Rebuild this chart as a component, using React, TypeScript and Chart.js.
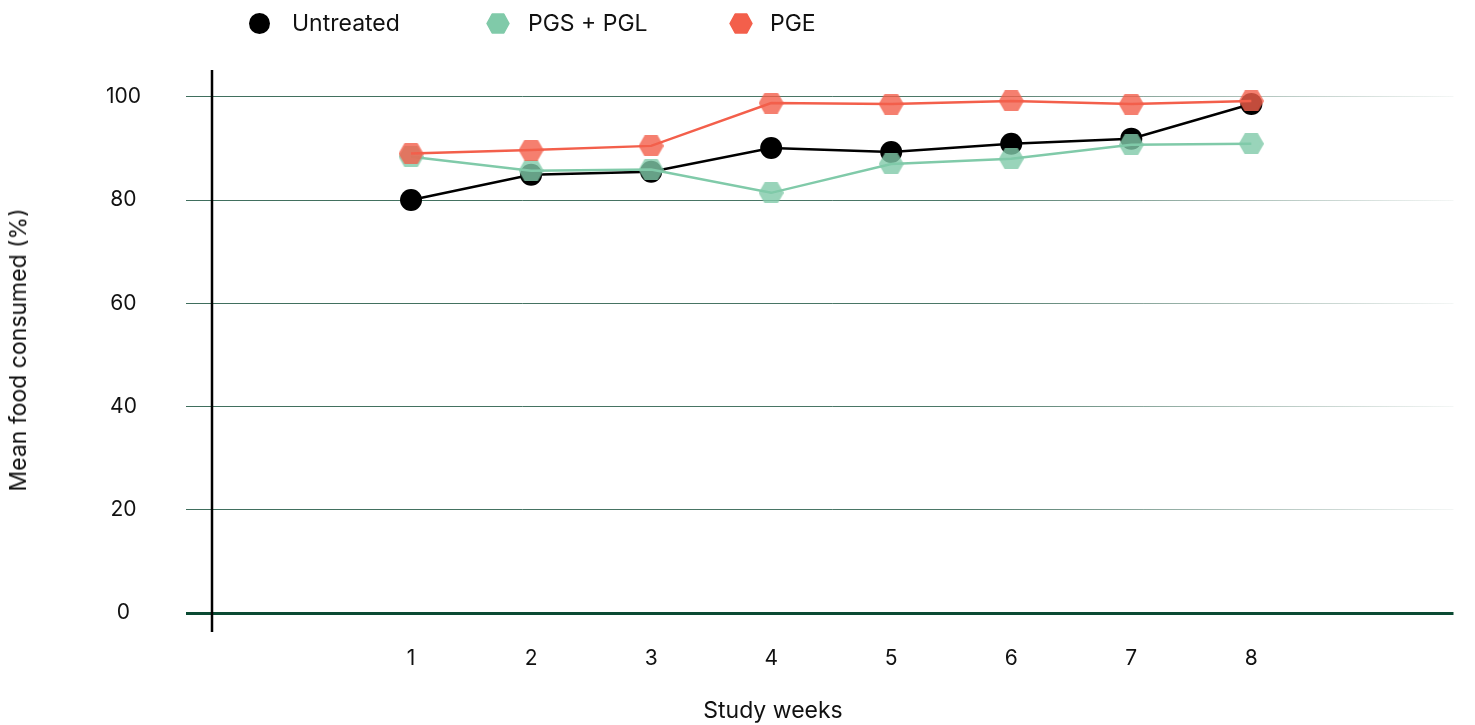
import React, { useEffect, useRef } from "react";
import { Chart, registerables } from "chart.js";

Chart.register(...registerables);

const weeks = [1, 2, 3, 4, 5, 6, 7, 8];
const untreated = [80.0, 84.9, 85.5, 90.1, 89.3, 90.9, 91.9, 98.6];
const pgsPgl = [88.4, 85.7, 85.9, 81.4, 87.0, 88.0, 90.7, 90.9];
const pge = [89.0, 89.7, 90.5, 98.8, 98.6, 99.2, 98.6, 99.2];
const yTicks = [0, 20, 40, 60, 80, 100];
const seriesNames = ["Untreated", "PGS + PGL", "PGE"];
const seriesColors = ["#000000", "#80caa9", "#f35f4b"];
const xTitle = "Study weeks";
const yTitle = "Mean food consumed (%)";

const FONT = "Inter, 'Noto Sans', sans-serif";

function makeHex(color: string, w: number, h: number, alpha: number): HTMLCanvasElement {
  const a = document.createElement("canvas");
  a.width = w;
  a.height = h;
  const g = a.getContext("2d")!;
  g.fillStyle = color;
  g.strokeStyle = color;
  g.lineJoin = "round";
  g.lineWidth = 2;
  g.beginPath();
  g.moveTo(1, h / 2);
  g.lineTo(w * 0.26, 1);
  g.lineTo(w * 0.74, 1);
  g.lineTo(w - 1, h / 2);
  g.lineTo(w * 0.74, h - 1);
  g.lineTo(w * 0.26, h - 1);
  g.closePath();
  g.fill();
  g.stroke();
  const b = document.createElement("canvas");
  b.width = w;
  b.height = h;
  const gb = b.getContext("2d")!;
  gb.globalAlpha = alpha;
  gb.drawImage(a, 0, 0);
  return b;
}

const axisLinePlugin = {
  id: "axisLine",
  afterDatasetsDraw(chart: any) {
    const { ctx, chartArea } = chart;
    ctx.save();
    ctx.strokeStyle = "#000";
    ctx.lineWidth = 2.5;
    ctx.beginPath();
    ctx.moveTo(chartArea.left, chartArea.top);
    ctx.lineTo(chartArea.left, chartArea.bottom + 19);
    ctx.stroke();
    ctx.restore();
  },
};

function HexIcon({ color }: { color: string }) {
  return (
    <svg width="24" height="21" viewBox="0 0 24 21" style={{ display: "block" }}>
      <polygon
        points="1,10.5 6.2,1 17.8,1 23,10.5 17.8,20 6.2,20"
        fill={color}
        stroke={color}
        strokeWidth="1.5"
        strokeLinejoin="round"
      />
    </svg>
  );
}

export default function App() {
  const ref = useRef<HTMLCanvasElement>(null);

  useEffect(() => {
    if (!ref.current) return;
    const hexGreen = makeHex(seriesColors[1], 25, 21, 0.8);
    const hexRed = makeHex(seriesColors[2], 25, 21, 0.8);
    let gradCache: any = null;
    const gridGradient = (chart: any) => {
      const area = chart.chartArea;
      if (!area) return "rgba(40,90,70,0.85)";
      if (gradCache) return gradCache;
      const g = chart.ctx.createLinearGradient(area.left - 26, 0, area.right + 20, 0);
      g.addColorStop(0, "rgba(30,85,65,0.85)");
      g.addColorStop(0.6, "rgba(30,85,65,0.8)");
      g.addColorStop(1, "rgba(30,85,65,0.02)");
      gradCache = g;
      return g;
    };

    const chart = new Chart(ref.current, {
      type: "line",
      data: {
        datasets: [
          {
            label: seriesNames[0],
            data: weeks.map((w, i) => ({ x: w, y: untreated[i] })),
            borderColor: seriesColors[0],
            backgroundColor: seriesColors[0],
            borderWidth: 2.5,
            pointStyle: "circle",
            pointRadius: 11,
            pointBorderWidth: 0,
            pointBackgroundColor: "#000",
            order: 2,
          },
          {
            label: seriesNames[1],
            data: weeks.map((w, i) => ({ x: w, y: pgsPgl[i] })),
            borderColor: seriesColors[1],
            backgroundColor: seriesColors[1],
            borderWidth: 2.5,
            pointStyle: hexGreen as any,
            pointRadius: 11,
            order: 1,
          },
          {
            label: seriesNames[2],
            data: weeks.map((w, i) => ({ x: w, y: pge[i] })),
            borderColor: seriesColors[2],
            backgroundColor: seriesColors[2],
            borderWidth: 2.5,
            pointStyle: hexRed as any,
            pointRadius: 11,
            order: 0,
          },
        ],
      },
      options: {
        animation: false,
        responsive: false,
        maintainAspectRatio: false,
        devicePixelRatio: 1,
        layout: { padding: { top: 62, right: 2, left: 0, bottom: 0 } },
        plugins: {
          legend: { display: false },
          tooltip: { enabled: false },
        },
        scales: {
          x: {
            type: "linear",
            min: -0.658,
            max: 9.684,
            afterBuildTicks: (scale: any) => {
              scale.ticks = weeks.map((v) => ({ value: v }));
            },
            afterFit: (scale: any) => {
              scale.height = 112;
            },
            grid: { display: false, drawTicks: false },
            border: { display: false },
            ticks: {
              padding: 33,
              color: "#111",
              font: { family: FONT, size: 21 },
              maxRotation: 0,
              autoSkip: false,
              callback: (v: any) => String(v),
            },
          },
          y: {
            type: "linear",
            min: 0,
            max: 105.2,
            afterBuildTicks: (scale: any) => {
              scale.ticks = yTicks.map((v) => ({ value: v }));
            },
            afterFit: (scale: any) => {
              scale.width = 204;
            },
            grid: {
              color: (c: any) =>
                c.tick && c.tick.value === 0 ? "#0b4a33" : gridGradient(c.chart),
              lineWidth: (c: any) => (c.tick && c.tick.value === 0 ? 3 : 1),
              tickLength: 26,
              drawTicks: true,
            },
            border: { display: false },
            ticks: {
              padding: 45,
              crossAlign: "center",
              color: "#111",
              font: { family: FONT, size: 21 },
              callback: (v: any) => String(v),
            },
          },
        },
      },
      plugins: [axisLinePlugin],
    } as any);
    return () => chart.destroy();
  }, []);

  const legendLeft = [241, 478, 721];
  const textStyle: React.CSSProperties = {
    position: "absolute",
    fontFamily: FONT,
    fontSize: 23,
    lineHeight: "28px",
    color: "#111",
    whiteSpace: "nowrap",
  };

  return (
    <div style={{ position: "relative", width: 1459, height: 717 }}>
      <canvas ref={ref} width={1459} height={717} style={{ display: "block", width: 1459, height: 717 }} />
      <div style={{ position: "absolute", left: 0, top: 0, width: 1459, height: 40 }}>
        {seriesNames.map((name, i) => (
          <React.Fragment key={name}>
            <div style={{ position: "absolute", left: legendLeft[i], top: 5 }}>
              {i === 0 ? (
                <div style={{ width: 21, height: 21, borderRadius: "50%", background: seriesColors[0] }} />
              ) : (
                <HexIcon color={seriesColors[i]} />
              )}
            </div>
            <div style={{ ...textStyle, top: 1, left: legendLeft[i] + 43 - (i === 0 ? 0 : 1) - (i === 2 ? 1 : 0) }}>{name}</div>
          </React.Fragment>
        ))}
      </div>
      <div
        style={{
          ...textStyle,
          left: 765,
          top: 702,
          transform: "translate(-50%, -50%)",
        }}
      >
        {xTitle}
      </div>
      <div
        style={{
          ...textStyle,
          left: 10,
          top: 342,
          transform: "translate(-50%, -50%) rotate(-90deg)",
        }}
      >
        {yTitle}
      </div>
    </div>
  );
}
